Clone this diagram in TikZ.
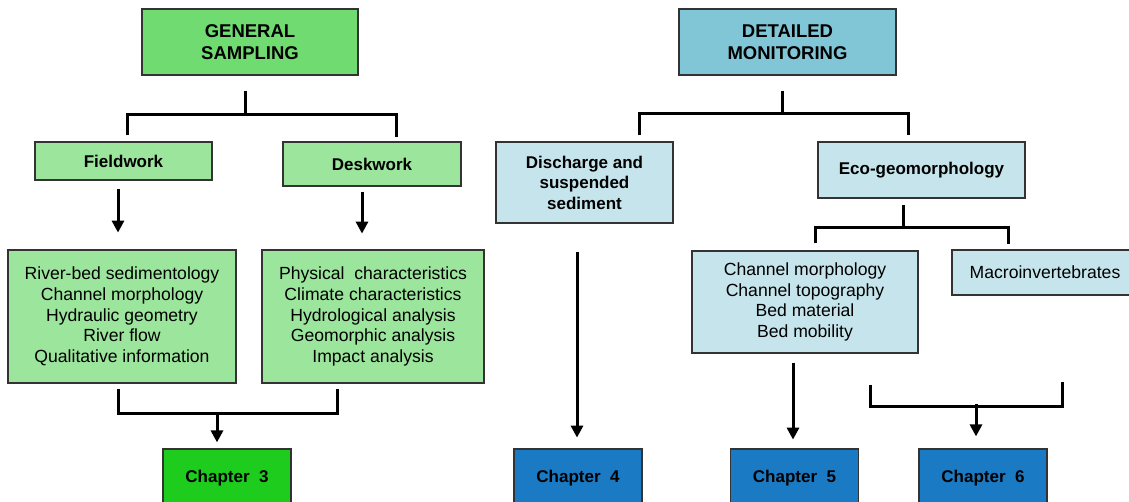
\documentclass[tikz,border=0pt]{standalone}
\usepackage{fontspec}
\setmainfont{Liberation Sans}
\usetikzlibrary{positioning,calc,arrows.meta}
\definecolor{genGreen}{RGB}{112,219,112}
\definecolor{lightGreen}{RGB}{156,229,156}
\definecolor{chapGreen}{RGB}{30,204,30}
\definecolor{detBlue}{RGB}{128,198,214}
\definecolor{lightBlue}{RGB}{197,228,236}
\definecolor{chapBlue}{RGB}{27,122,196}
\tikzstyle{box}=[rectangle, draw=black!80, line width=1.2pt, inner sep=0pt, align=center, text=black, font=\fontsize{17.6}{20.7}\selectfont]
\tikzstyle{head}=[box, minimum height=66pt, font=\fontsize{18.5}{22}\selectfont\bfseries]
\tikzstyle{chap}=[box, minimum width=128pt, minimum height=58pt, font=\fontsize{17}{20}\selectfont\bfseries]
\tikzstyle{link}=[line width=3pt, black]
\tikzset{>={Triangle[width=12pt,length=12pt]}}

\begin{document}
\begin{tikzpicture}[x=1pt,y=-1pt]
    \useasboundingbox (0,0) rectangle (1129,501);
    \clip (0,0) rectangle (1129,501);

        % general sampling side
        \node(gen)[head, fill=genGreen, minimum width=216pt] at (250,42) {GENERAL\\SAMPLING};
        \node(field)[box, fill=lightGreen, minimum width=177pt, minimum height=38pt, font=\fontsize{17}{20}\selectfont\bfseries] at (123.5,161) {Fieldwork};
        \node(desk)[box, fill=lightGreen, minimum width=178pt, minimum height=44pt, font=\fontsize{17}{20}\selectfont\bfseries] at (372,164) {Deskwork};
        \node(fieldList)[box, fill=lightGreen, minimum width=228pt, minimum height=133pt] at (122,316.5) {River-bed sedimentology\\Channel morphology\\Hydraulic geometry\\River flow\\Qualitative information};
        \node(deskList)[box, fill=lightGreen, minimum width=222pt, minimum height=133pt] at (373,316.5) {Physical\ \ characteristics\\Climate characteristics\\Hydrological analysis\\Geomorphic analysis\\Impact analysis};
        \node(ch3)[chap, fill=chapGreen] at (227,478) {Chapter~~3};

        % detailed monitoring side
        \node(det)[head, fill=detBlue, minimum width=217pt] at (787.5,42) {DETAILED\\MONITORING};
        \node(disch)[box, fill=lightBlue, minimum width=177pt, minimum height=81pt, font=\fontsize{17}{20.5}\selectfont\bfseries] at (584.5,182.5) {Discharge and\\suspended\\sediment};
        \node(eco)[box, fill=lightBlue, minimum width=207pt, minimum height=56pt, font=\fontsize{17}{20}\selectfont\bfseries] at (921.5,170) {Eco-geomorphology};
        \node(chanList)[box, fill=lightBlue, minimum width=226pt, minimum height=102pt] at (805,302) {Channel morphology\\Channel topography\\Bed material\\Bed mobility};
        \node(macro)[box, fill=lightBlue, minimum width=186pt, minimum height=45pt] at (1045,272.5) {Macroinvertebrates};
        \node(ch4)[chap, fill=chapBlue] at (578,478) {Chapter~~4};
        \node(ch5)[chap, fill=chapBlue] at (794.5,478) {Chapter~~5};
        \node(ch6)[chap, fill=chapBlue] at (983,478) {Chapter~~6};

        % splits
        \coordinate (genL) at ($(field.north)+(3.5,-6)$);
        \coordinate (genR) at ($(desk.north)+(24,-4)$);
        \draw [link] ($(gen.south)+(-5,15)$) -- ++(0,25);
        \draw [link] (genL) -- ++(0,-21) -| (genR);

        \coordinate (detL) at ($(disch.north)+(54.5,-6)$);
        \coordinate (detR) at ($(eco.north)+(-13.5,-6)$);
        \draw [link] ($(det.south)+(-5.5,15)$) -- ++(0,24);
        \draw [link] (detL) -- ++(0,-22) -| (detR);

        \coordinate (ecoL) at ($(chanList.north)+(10,-7)$);
        \coordinate (ecoR) at ($(macro.north)+(-37,-5)$);
        \draw [link] ($(eco.south)+(-18.5,6)$) -- ++(0,23);
        \draw [link] (ecoL) -- ++(0,-16) -| (ecoR);

        % arrows down
        \draw [link, ->] ($(field.south)+(-5.5,8)$) -- ++(0,44);
        \draw [link, ->] ($(desk.south)+(-10,5)$) -- ++(0,42);
        \draw [link, ->] ($(disch.south)+(-7.5,28)$) -- ++(0,186);
        \draw [link, ->] ($(chanList.south)+(-12,9)$) -- ++(0,77);

        % joins to chapters
        \coordinate (fieldJoin) at ($(fieldList.south)+(-4,5)$);
        \coordinate (deskJoin) at ($(deskList.south)+(-36,5)$);
        \draw [link] (fieldJoin) -- ++(0,25) -| (deskJoin);
        \draw [link, ->] ($(ch3.north)+(-10,-36)$) -- ++(0,30);

        \coordinate (chanJoin) at ($(chanList.south)+(65,31)$);
        \coordinate (macroJoin) at ($(macro.south)+(17,86)$);
        \draw [link] (chanJoin) -- ++(0,22) -| (macroJoin);
        \draw [link, ->] ($(ch6.north)+(-7,-44)$) -- ++(0,32);

    \end{tikzpicture}
\end{document}
